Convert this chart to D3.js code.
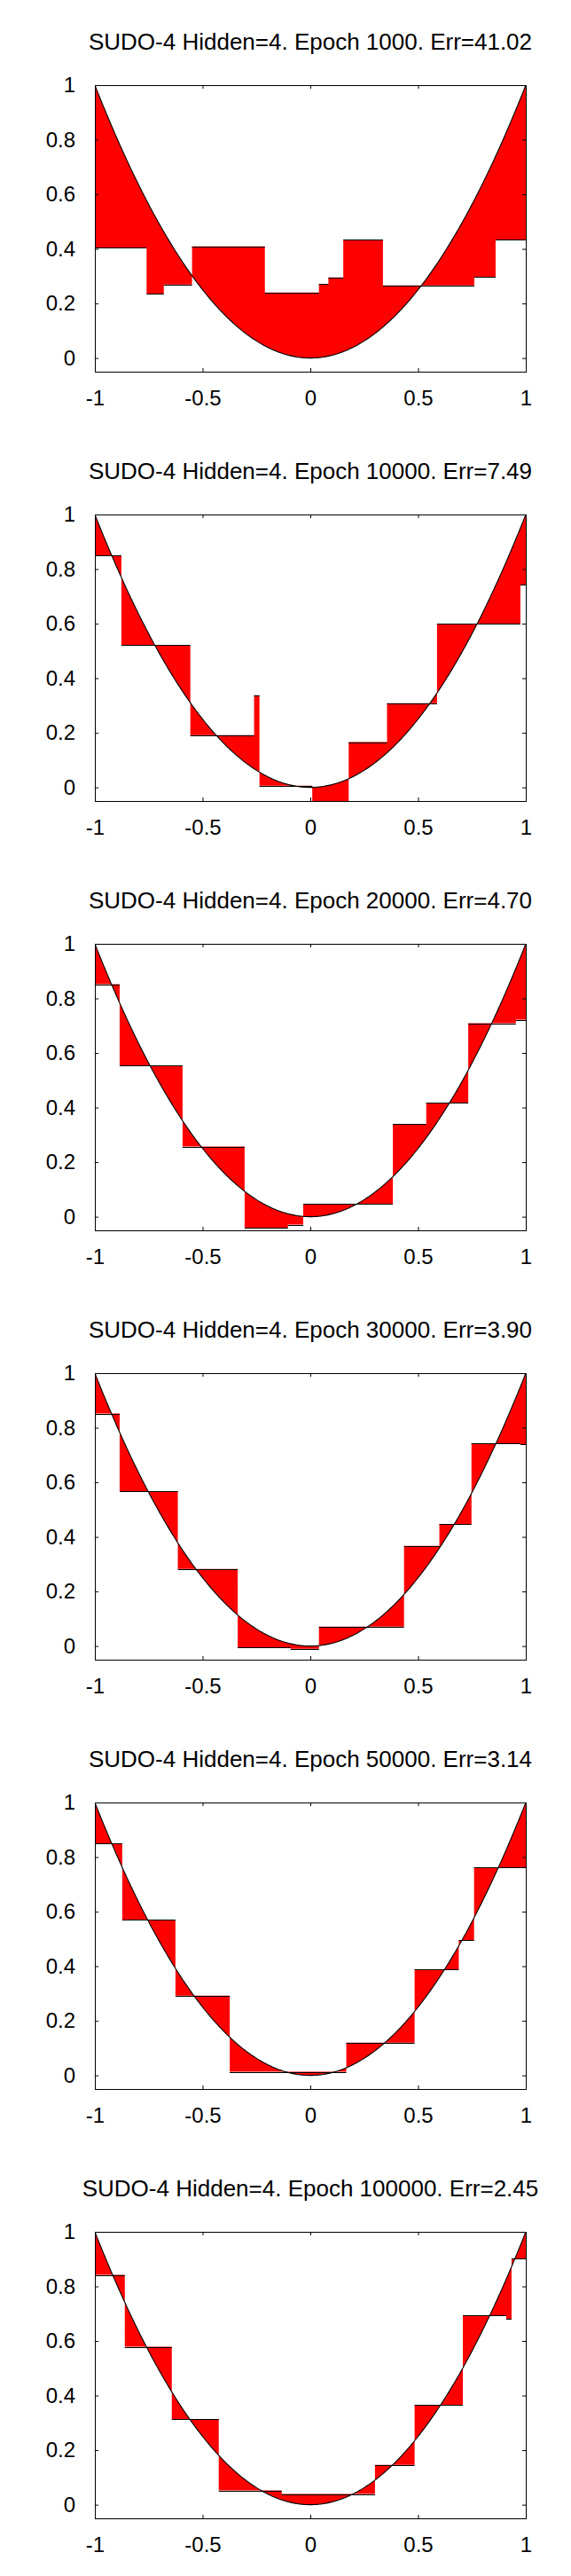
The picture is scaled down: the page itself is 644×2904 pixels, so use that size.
<!DOCTYPE html>
<html>
<head>
<meta charset="utf-8">
<script src="https://cdn.jsdelivr.net/npm/d3@7"></script>
<style>
  body { margin: 0; background: #fff; }
  text { font-family: "Liberation Sans", Arial, Helvetica, sans-serif; fill: #000; }
</style>
</head>
<body>
<div id="chart"></div>
<script>
// six snapshots of a net learning y = x^2, output is a staircase

const epochs = [1000, 10000, 20000, 30000, 50000, 100000]
const errs = ["41.02", "7.49", "4.70", "3.90", "3.14", "2.45"]

const xTicks = [-1, -0.5, 0, 0.5, 1]
const yTicks = [0, 0.2, 0.4, 0.6, 0.8, 1]

// step edges (x) and step levels (net output)
const edges1k   = [-1, -0.76, -0.68, -0.549, -0.211, 0.04, 0.084, 0.153, 0.337, 0.761, 0.86, 1]
const levels1k  = [0.405, 0.236, 0.269, 0.409, 0.240, 0.272, 0.295, 0.434, 0.266, 0.298, 0.434]

const edges10k  = [-1, -0.877, -0.557, -0.261, -0.236, 0.009, 0.178, 0.356, 0.588, 0.975, 1]
const levels10k = [0.850, 0.522, 0.191, 0.338, 0.006, -0.1, 0.166, 0.308, 0.599, 0.742]

const edges20k  = [-1, -0.885, -0.593, -0.305, -0.104, -0.033, 0.383, 0.538, 0.733, 0.954, 1]
const levels20k = [0.852, 0.554, 0.257, -0.041, -0.029, 0.046, 0.340, 0.418, 0.709, 0.722]

const edges30k  = [-1, -0.885, -0.615, -0.337, -0.092, 0.04, 0.435, 0.599, 0.748, 0.975, 1]
const levels30k = [0.852, 0.567, 0.282, -0.006, -0.010, 0.071, 0.367, 0.447, 0.743, 0.739]

const edges50k  = [-1, -0.873, -0.626, -0.374, 0.167, 0.484, 0.689, 0.760, 1]
const levels50k = [0.849, 0.570, 0.292, 0.013, 0.120, 0.389, 0.495, 0.763]

const edges100k  = [-1, -0.861, -0.643, -0.425, -0.133, 0.300, 0.484, 0.708, 0.909, 0.934, 1]
const levels100k = [0.842, 0.579, 0.314, 0.052, 0.039, 0.146, 0.366, 0.693, 0.680, 0.901]

const panels = [
  {edges: edges1k, levels: levels1k},
  {edges: edges10k, levels: levels10k},
  {edges: edges20k, levels: levels20k},
  {edges: edges30k, levels: levels30k},
  {edges: edges50k, levels: levels50k},
  {edges: edges100k, levels: levels100k},
]

// the function the net is trained on
const target = x => x * x

const W = 644, panelH = 484
const margin = {top: 96, right: 51, bottom: 65, left: 107}
const plotW = W - margin.left - margin.right
const plotH = panelH - margin.top - margin.bottom

const svg = d3.select("#chart").append("svg")
    .attr("width", W)
    .attr("height", panelH * panels.length)
    .style("background-color", "#fff")

const x = d3.scaleLinear().domain([-1, 1]).range([margin.left, margin.left + plotW])
const y = d3.scaleLinear().domain([-0.05, 1]).range([margin.top + plotH, margin.top])

svg.append("defs").append("clipPath").attr("id", "plotclip")
  .append("rect")
    .attr("x", margin.left).attr("y", margin.top)
    .attr("width", plotW).attr("height", plotH)

const fillArea = d3.area()
    .x(d => x(d.x))
    .y0(d => y(d.out))
    .y1(d => y(d.tgt))

const curveLine = d3.line()
    .x(d => x(d))
    .y(d => y(target(d)))

panels.forEach((p, i) => {
  const g = svg.append("g").attr("transform", "translate(0," + (i * panelH) + ")")

  g.append("text")
    .attr("x", margin.left + plotW / 2)
    .attr("y", 56)
    .attr("text-anchor", "middle")
    .style("font-size", "26px")
    .text("SUDO-4 Hidden=4. Epoch " + epochs[i] + ". Err=" + errs[i])

  const plot = g.append("g").attr("clip-path", "url(#plotclip)")

  // red fill between net output and target
  let pts = []
  p.levels.forEach((v, k) => {
    const a = p.edges[k], b = p.edges[k + 1]
    d3.range(0, 41).forEach(s => {
      const xx = a + (b - a) * s / 40
      pts.push({x: xx, out: v, tgt: target(xx)})
    })
  })
  plot.append("path")
    .attr("d", fillArea(pts))
    .attr("fill", "#ff0000")

  // flat parts of the staircase
  plot.selectAll("line.step")
    .data(p.levels)
    .enter()
    .append("line")
      .attr("class", "step")
      .attr("x1", (d, k) => x(p.edges[k]))
      .attr("x2", (d, k) => x(p.edges[k + 1]))
      .attr("y1", d => Math.round(y(d)) + 0.5)
      .attr("y2", d => Math.round(y(d)) + 0.5)
      .attr("stroke", "#000")
      .attr("stroke-width", 1)

  plot.append("path")
    .attr("d", curveLine(d3.range(-1, 1.0001, 0.005)))
    .attr("fill", "none")
    .attr("stroke", "#000")
    .attr("stroke-width", 1.1)

  // axes, ticks pointing inwards on all four sides
  const fmt = d => String(d)
  g.append("g")
    .attr("transform", "translate(" + margin.left + ",0)")
    .call(d3.axisLeft(y).tickValues(yTicks).tickSizeInner(-4).tickSizeOuter(0).tickPadding(22).tickFormat(fmt))
  g.append("g")
    .attr("transform", "translate(" + (margin.left + plotW) + ",0)")
    .call(d3.axisRight(y).tickValues(yTicks).tickSizeInner(-4).tickSizeOuter(0).tickFormat(""))
  g.append("g")
    .attr("transform", "translate(0," + (margin.top + plotH) + ")")
    .call(d3.axisBottom(x).tickValues(xTicks).tickSizeInner(-4).tickSizeOuter(0).tickPadding(21).tickFormat(fmt))
  g.append("g")
    .attr("transform", "translate(0," + margin.top + ")")
    .call(d3.axisTop(x).tickValues(xTicks).tickSizeInner(-4).tickSizeOuter(0).tickFormat(""))

  g.selectAll(".domain").remove()
  g.selectAll(".tick text")
    .style("font-size", "24px")
    .attr("font-family", null)
  g.selectAll(".tick line").attr("stroke", "#000")

  g.append("rect")
    .attr("x", margin.left + 0.5)
    .attr("y", margin.top + 0.5)
    .attr("width", plotW)
    .attr("height", plotH)
    .attr("fill", "none")
    .attr("stroke", "#000")
    .attr("stroke-width", 1)
})
</script>
</body>
</html>
